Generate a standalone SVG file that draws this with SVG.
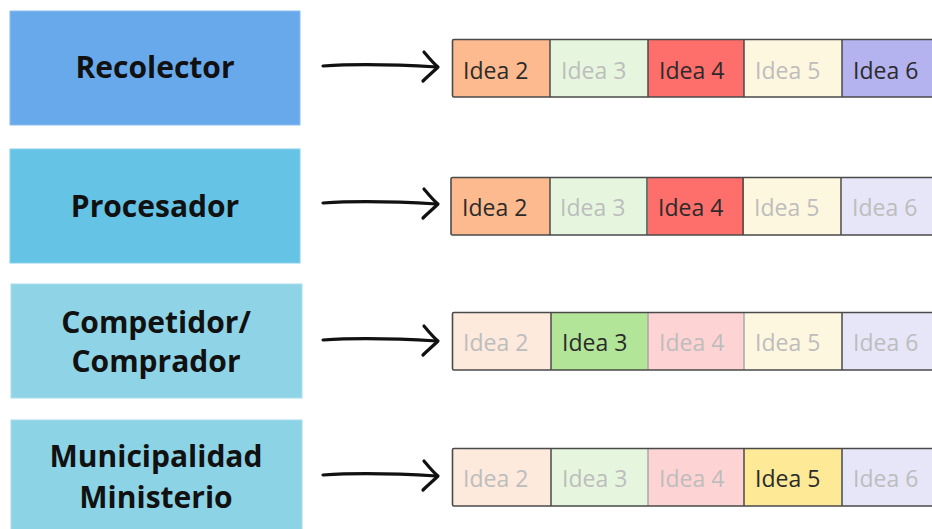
<svg xmlns="http://www.w3.org/2000/svg" width="932" height="529" viewBox="0 0 932 529">
  <style>
    .role { stroke-width: 1; }
    .role-label { font-family: "Open Sans", "Noto Sans", "Liberation Sans", sans-serif; font-weight: 700; font-size: 30px; fill: #111; text-anchor: middle; }
    .cell-label { font-family: "Open Sans", "Noto Sans", "Liberation Sans", sans-serif; font-size: 23px; }
    .on { fill: #2b2b2b; }
    .off { fill: #bdbdbd; }
    .frame { fill: none; stroke: #4a4a4a; stroke-width: 1.6; }
    .div-dark { stroke: #4a4a4a; stroke-width: 1.5; }
    .div-light { stroke: #a8a8a8; stroke-width: 1.5; }
    .arrow { fill: none; stroke: #111; stroke-width: 3.2; stroke-linecap: round; stroke-linejoin: round; }
    .i2 { fill: #fdba8e; } .i2o { fill: #fee9dd; }
    .i3 { fill: #b2e598; } .i3o { fill: #e6f6de; }
    .i4 { fill: #fe6e6b; } .i4o { fill: #fed3d3; }
    .i5 { fill: #fee996; } .i5o { fill: #fef7e0; }
    .i6 { fill: #b4b3f0; } .i6o { fill: #e6e6f8; }
  </style>
  <defs>
    <!-- hand-drawn style arrow, origin at the tail -->
    <g id="sketch-arrow">
      <path class="arrow" d="M0,0 C30,-2 80,-1 114,1"/>
      <path class="arrow" d="M101,-14 C106,-8 110,-3 115,1 C110,6 105,10 100,15"/>
    </g>
  </defs>

  <rect width="932" height="529" fill="#ffffff"/>

  <!-- role boxes -->
  <g id="recolector">
    <rect class="role" x="10" y="11" width="290" height="114" fill="#68a9ec" stroke="#8bbdf0"/>
    <text class="role-label" x="155" y="78">Recolector</text>
  </g>
  <g id="procesador">
    <rect class="role" x="10" y="149" width="290" height="114" fill="#65c3e5" stroke="#88d0ea"/>
    <text class="role-label" x="155" y="217">Procesador</text>
  </g>
  <g id="competidor">
    <rect class="role" x="11" y="284" width="291" height="114" fill="#8fd4e6" stroke="#aadeeb"/>
    <text class="role-label" x="156" y="333">Competidor/</text>
    <text class="role-label" x="156" y="372">Comprador</text>
  </g>
  <g id="municipalidad">
    <rect class="role" x="11" y="420" width="291" height="115" fill="#8cd3e6" stroke="#a8ddeb"/>
    <text class="role-label" x="156" y="467">Municipalidad</text>
    <text class="role-label" x="156" y="508">Ministerio</text>
  </g>

  <!-- connectors -->
  <g id="connectors">
    <use href="#sketch-arrow" x="323" y="66"/>
    <use href="#sketch-arrow" x="323" y="203"/>
    <use href="#sketch-arrow" x="323" y="340"/>
    <use href="#sketch-arrow" x="323" y="475"/>
  </g>

  <!-- idea strips -->
  <g id="ideas-recolector">
    <rect class="i2" x="452" y="39" width="98" height="58"/>
    <rect class="i3o" x="550" y="39" width="98" height="58"/>
    <rect class="i4" x="648" y="39" width="96" height="58"/>
    <rect class="i5o" x="744" y="39" width="98" height="58"/>
    <rect class="i6" x="842" y="39" width="98" height="58"/>
    <line class="div-dark" x1="550" y1="39" x2="550" y2="97"/>
    <line class="div-dark" x1="648" y1="39" x2="648" y2="97"/>
    <line class="div-dark" x1="744" y1="39" x2="744" y2="97"/>
    <line class="div-dark" x1="842" y1="39" x2="842" y2="97"/>
    <rect class="frame" x="452.5" y="39.5" width="490" height="57.5" rx="1.5"/>
    <text class="cell-label on" x="463" y="79">Idea 2</text>
    <text class="cell-label off" x="561" y="79">Idea 3</text>
    <text class="cell-label on" x="659" y="79">Idea 4</text>
    <text class="cell-label off" x="755" y="79">Idea 5</text>
    <text class="cell-label on" x="853" y="79">Idea 6</text>
  </g>

  <g id="ideas-procesador">
    <rect class="i2" x="451" y="177" width="99" height="58"/>
    <rect class="i3o" x="550" y="177" width="98" height="58"/>
    <rect class="i4" x="648" y="177" width="96" height="58"/>
    <rect class="i5o" x="744" y="177" width="98" height="58"/>
    <rect class="i6o" x="842" y="177" width="98" height="58"/>
    <line class="div-dark" x1="550" y1="177" x2="550" y2="235"/>
    <line class="div-dark" x1="647" y1="177" x2="647" y2="235"/>
    <line class="div-dark" x1="743" y1="177" x2="743" y2="235"/>
    <line class="div-dark" x1="841" y1="177" x2="841" y2="235"/>
    <rect class="frame" x="451" y="177.5" width="491" height="57.5" rx="1.5"/>
    <text class="cell-label on" x="462" y="216">Idea 2</text>
    <text class="cell-label off" x="560" y="216">Idea 3</text>
    <text class="cell-label on" x="658" y="216">Idea 4</text>
    <text class="cell-label off" x="754" y="216">Idea 5</text>
    <text class="cell-label off" x="852" y="216">Idea 6</text>
  </g>

  <g id="ideas-competidor">
    <rect class="i2o" x="452" y="312" width="99" height="58"/>
    <rect class="i3" x="551" y="312" width="97" height="58"/>
    <rect class="i4o" x="648" y="312" width="96" height="58"/>
    <rect class="i5o" x="744" y="312" width="98" height="58"/>
    <rect class="i6o" x="842" y="312" width="98" height="58"/>
    <line class="div-dark" x1="551" y1="312" x2="551" y2="370"/>
    <line class="div-light" x1="648" y1="312" x2="648" y2="370"/>
    <line class="div-light" x1="744" y1="312" x2="744" y2="370"/>
    <line class="div-dark" x1="842" y1="312" x2="842" y2="370"/>
    <rect class="frame" x="452.5" y="312.5" width="490" height="57.5" rx="1.5"/>
    <text class="cell-label off" x="463" y="351">Idea 2</text>
    <text class="cell-label on" x="562" y="351">Idea 3</text>
    <text class="cell-label off" x="659" y="351">Idea 4</text>
    <text class="cell-label off" x="755" y="351">Idea 5</text>
    <text class="cell-label off" x="853" y="351">Idea 6</text>
  </g>

  <g id="ideas-municipalidad">
    <rect class="i2o" x="452" y="448" width="99" height="58"/>
    <rect class="i3o" x="551" y="448" width="97" height="58"/>
    <rect class="i4o" x="648" y="448" width="96" height="58"/>
    <rect class="i5" x="744" y="448" width="98" height="58"/>
    <rect class="i6o" x="842" y="448" width="98" height="58"/>
    <line class="div-dark" x1="551" y1="448" x2="551" y2="506"/>
    <line class="div-light" x1="648" y1="448" x2="648" y2="506"/>
    <line class="div-dark" x1="744" y1="448" x2="744" y2="506"/>
    <line class="div-dark" x1="842" y1="448" x2="842" y2="506"/>
    <rect class="frame" x="452.5" y="448.5" width="490" height="57.5" rx="1.5"/>
    <text class="cell-label off" x="463" y="487">Idea 2</text>
    <text class="cell-label off" x="562" y="487">Idea 3</text>
    <text class="cell-label off" x="659" y="487">Idea 4</text>
    <text class="cell-label on" x="755" y="487">Idea 5</text>
    <text class="cell-label off" x="853" y="487">Idea 6</text>
  </g>
</svg>
